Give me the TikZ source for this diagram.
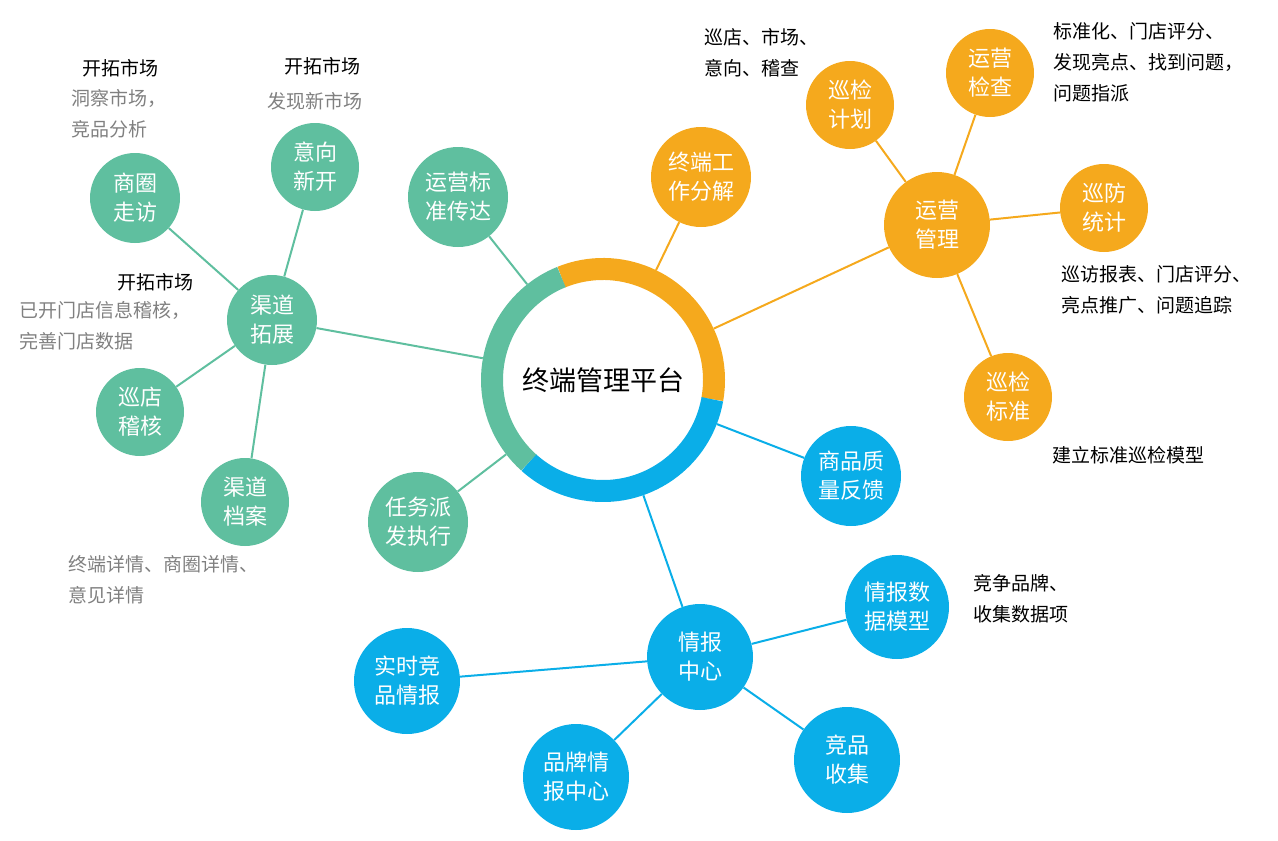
\documentclass[tikz,border=0pt]{standalone}
\usepackage{fontspec}
\setmainfont{Noto Sans CJK SC}
\usetikzlibrary{calc}
\definecolor{grn}{HTML}{5FBF9F}
\definecolor{org}{HTML}{F5A91D}
\definecolor{blu}{HTML}{0AAEE8}
\definecolor{gry}{HTML}{808080}
\tikzset{
  bub/.style={circle, fill=#1, text=white, inner sep=0pt, align=center,
    font=\fontsize{22}{29}\selectfont},
  note/.style={align=left, anchor=north west, font=\fontsize{19}{31}\selectfont},
  link/.style={line width=2pt, #1}
}
\begin{document}
\begin{tikzpicture}[x=1pt, y=-1pt]
	\useasboundingbox (0,0) rectangle (1278,841);

	% ring
	\coordinate (C) at (603,380);
	\draw [line width=22pt, org] ($(C)+(-112:111)$) arc [start angle=-112, end angle=10, radius=111];
	\draw [line width=22pt, blu] ($(C)+(10:111)$) arc [start angle=10, end angle=132, radius=111];
	\draw [line width=22pt, grn] ($(C)+(132:111)$) arc [start angle=132, end angle=248, radius=111];
	\node (core) at (C) [circle, minimum size=244pt, font=\fontsize{27}{30}\selectfont] {终端管理平台};

	% green
	\node (shq) at (135,198) [bub=grn, minimum size=90pt] {商圈\\走访};
	\node (yxk) at (315,167) [bub=grn, minimum size=88pt] {意向\\新开};
	\node (yyb) at (458,197) [bub=grn, minimum size=100pt] {运营标\\准传达};
	\node (qdt) at (272,320) [bub=grn, minimum size=90pt] {渠道\\拓展};
	\node (xdj) at (140,412) [bub=grn, minimum size=88pt] {巡店\\稽核};
	\node (qda) at (245,502) [bub=grn, minimum size=88pt] {渠道\\档案};
	\node (rwp) at (418,522) [bub=grn, minimum size=100pt] {任务派\\发执行};

	% orange
	\node (zdg) at (701,177) [bub=org, minimum size=100pt] {终端工\\作分解};
	\node (xjh) at (850,105) [bub=org, minimum size=88pt] {巡检\\计划};
	\node (yjc) at (990,73)  [bub=org, minimum size=88pt] {运营\\检查};
	\node (yyg) at (937,225) [bub=org, minimum size=106pt] {运营\\管理};
	\node (xft) at (1104,208) [bub=org, minimum size=88pt] {巡防\\统计};
	\node (xbz) at (1008,397) [bub=org, minimum size=88pt] {巡检\\标准};

	% blue
	\node (spz) at (851,476) [bub=blu, minimum size=100pt] {商品质\\量反馈};
	\node (qbm) at (897,607) [bub=blu, minimum size=104pt] {情报数\\据模型};
	\node (qbz) at (700,657) [bub=blu, minimum size=106pt] {情报\\中心};
	\node (ssj) at (407,681) [bub=blu, minimum size=106pt] {实时竞\\品情报};
	\node (ppq) at (576,777) [bub=blu, minimum size=106pt] {品牌情\\报中心};
	\node (jps) at (847,760) [bub=blu, minimum size=106pt] {竞品\\收集};

	% links
	\begin{scope}[on background layer/.style={}]
	\draw [link=grn] (core) -- (qdt);
	\draw [link=grn] (core) -- (yyb);
	\draw [link=grn] (core) -- (rwp);
	\draw [link=grn] (qdt) -- (shq);
	\draw [link=grn] (qdt) -- (yxk);
	\draw [link=grn] (qdt) -- (xdj);
	\draw [link=grn] (qdt) -- (qda);
	\draw [link=org] (core) -- (zdg);
	\draw [link=org] (core) -- (yyg);
	\draw [link=org] (yyg) -- (xjh);
	\draw [link=org] (yyg) -- (yjc);
	\draw [link=org] (yyg) -- (xft);
	\draw [link=org] (yyg) -- (xbz);
	\draw [link=blu] (core) -- (spz);
	\draw [link=blu] (core) -- (qbz);
	\draw [link=blu] (qbz) -- (qbm);
	\draw [link=blu] (qbz) -- (ssj);
	\draw [link=blu] (qbz) -- (ppq);
	\draw [link=blu] (qbz) -- (jps);
	\end{scope}

	% notes
	\node (n1) at (120,68) [font=\fontsize{19}{24}\selectfont] {开拓市场};
	\node (g1) at (68,86) [note, gry] {洞察市场，\\竞品分析};
	\node (n2) at (322,66) [font=\fontsize{19}{24}\selectfont] {开拓市场};
	\node (g2) at (315,101) [gry, font=\fontsize{19}{24}\selectfont] {发现新市场};
	\node (n3) at (155,282) [font=\fontsize{19}{24}\selectfont] {开拓市场};
	\node (g3) at (16,298) [note, gry] {已开门店信息稽核，\\完善门店数据};
	\node (g4) at (65,552) [note, gry] {终端详情、商圈详情、\\意见详情};
	\node (n4) at (701,25) [note] {巡店、市场、\\意向、稽查};
	\node (n5) at (1050,19) [note] {标准化、门店评分、\\发现亮点、找到问题，\\问题指派};
	\node (n6) at (1058,262) [note] {巡访报表、门店评分、\\亮点推广、问题追踪};
	\node (n7) at (1128,455) [font=\fontsize{19}{24}\selectfont] {建立标准巡检模型};
	\node (n8) at (970,571) [note] {竞争品牌、\\收集数据项};
\end{tikzpicture}
\end{document}
